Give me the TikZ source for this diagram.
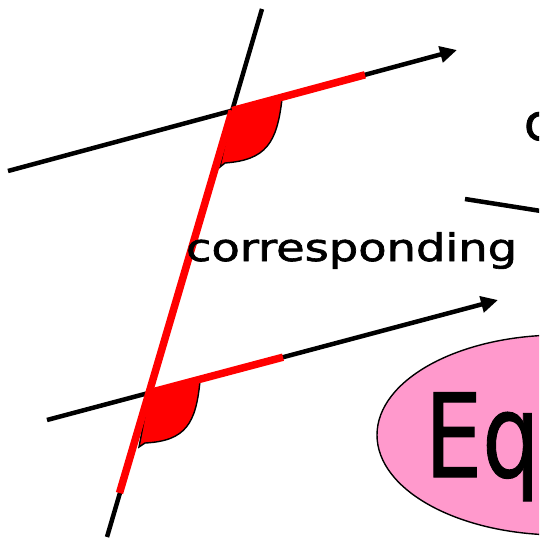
\documentclass[tikz,border=0pt]{standalone}
\usepackage{fontspec}
\setmainfont{DejaVu Sans}
\newfontfamily\labelfont[FakeBold=1.6]{DejaVu Sans}
\newfontfamily\bigfont[FakeBold=1.0]{DejaVu Sans}
\usepackage{graphicx}
\usetikzlibrary{arrows.meta,shapes.geometric}
\definecolor{angred}{HTML}{FF0000}
\definecolor{ovalpink}{HTML}{FF99CC}
\tikzset{
  blackline/.style={line width=4.5pt, black},
  arrowline/.style={blackline, -{Triangle[length=17pt,width=16pt]}},
  redline/.style={line width=7.5pt, angred},
  anglefill/.style={fill=angred, draw=black, line width=1.4pt},
  txt/.style={inner sep=0pt, outer sep=0pt, anchor=base west}
}
\begin{document}
\begin{tikzpicture}[x=1pt,y=-1pt]
\useasboundingbox (0,0) rectangle (539,541);
\clip (0,0) rectangle (539,541);
% coordinates
\coordinate (T1) at (262,9);
\coordinate (T2) at (107,537);
\coordinate (U1) at (8,171);
\coordinate (U2) at (457,50);
\coordinate (L1) at (47,420);
\coordinate (L2) at (498,300);
\coordinate (P) at (232.2,110.6);
\coordinate (Q) at (149.3,392.7);
\coordinate (PR) at (365,74.8);
\coordinate (QR) at (283,357.2);
\coordinate (TR) at (119.5,493);
\coordinate (S1) at (465,199);
\coordinate (S2) at (560,214);
% oval
\node[draw=black, line width=1.4pt, fill=ovalpink, ellipse, minimum width=366pt, minimum height=200pt, inner sep=0pt] (oval) at (560,435) {};
\node[txt] (eq) at (425,477) {\scalebox{0.78}[1]{\bigfont\fontsize{116}{116}\selectfont Eq}};
% partial text top right
\node[txt] (c) at (524,140) {\labelfont\fontsize{50}{50}\selectfont c};
% partial segment
\draw[blackline] (S1) -- (S2);
% black lines
\draw[blackline] (T1) -- (T2);
\draw[arrowline] (U1) -- (U2);
\draw[arrowline] (L1) -- (L2);
% angle fills
\draw[anglefill] (P) -- (282,99) .. controls (277,143) and (266,160) .. (225,163) -- (220,167) -- cycle;
\draw[anglefill] (Q) -- (200,381) .. controls (196,423) and (186,441) .. (145,443) -- (139,447) -- cycle;
% red segments
\draw[redline] (P) -- (PR);
\draw[redline] (Q) -- (QR);
\draw[redline] (P) -- (TR);
% label
\node[txt] (corr) at (186,261) {\scalebox{1.22}[1]{\labelfont\fontsize{38}{38}\selectfont corresponding}};
\end{tikzpicture}
\end{document}
